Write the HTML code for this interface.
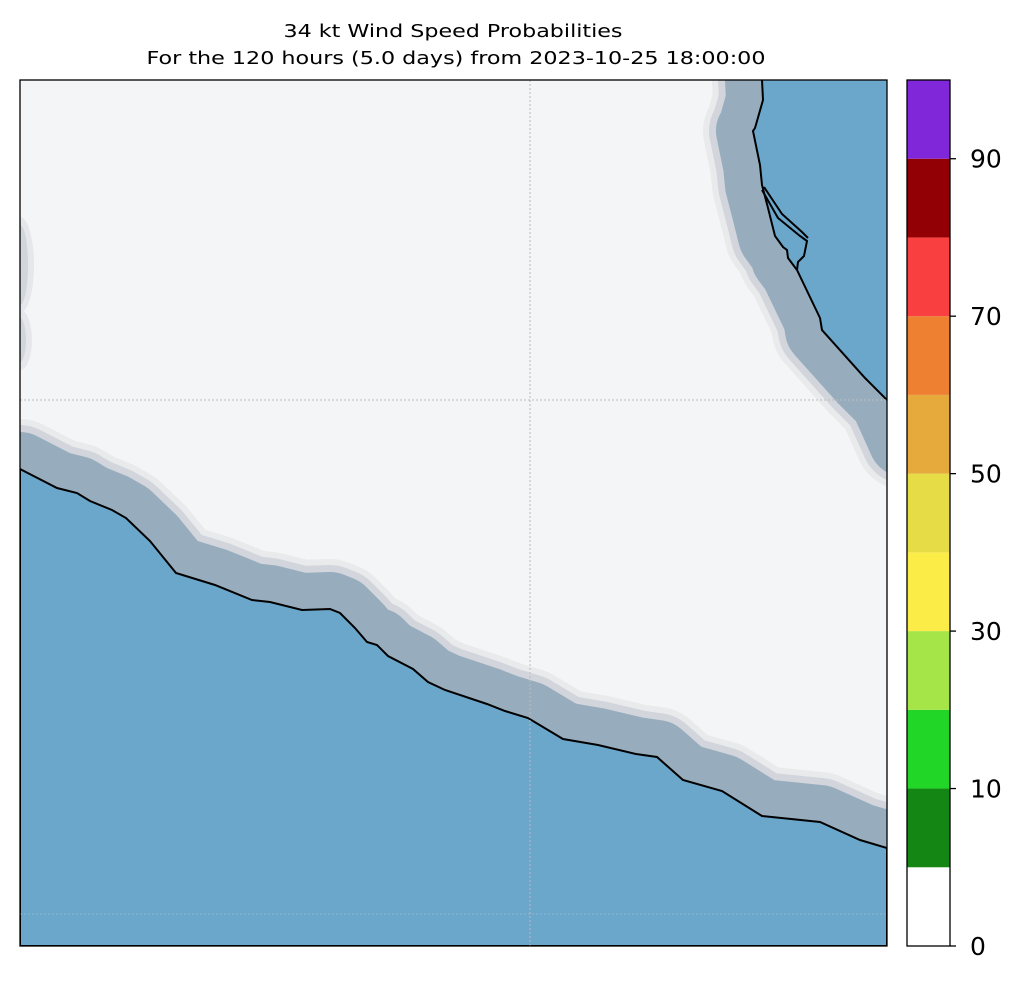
<!DOCTYPE html>
<html><head><meta charset="utf-8"><style>
body{margin:0;background:#fff;}
svg text{font-family:"DejaVu Sans","Liberation Sans",sans-serif;}
</style></head><body>
<svg width="1024" height="984" viewBox="0 0 1024 984" xmlns="http://www.w3.org/2000/svg">
<text x="453" y="37" font-size="18" text-anchor="middle" textLength="339" lengthAdjust="spacingAndGlyphs">34 kt Wind Speed Probabilities</text>
<text x="456" y="64" font-size="18" text-anchor="middle" textLength="619" lengthAdjust="spacingAndGlyphs">For the 120 hours (5.0 days) from 2023-10-25 18:00:00</text>
<defs><clipPath id="mc"><rect x="20" y="80" width="867" height="866"/></clipPath></defs>
<g clip-path="url(#mc)">
<rect x="20" y="80" width="867" height="866" fill="#f4f5f7"/>
<g id="bands" fill="none" stroke-linejoin="round" stroke-linecap="round"></g>
<g id="ocean"></g>
<line x1="530" y1="80" x2="530" y2="946" stroke="#bbb" stroke-width="1" stroke-dasharray="2,2"/>
<line x1="20" y1="400" x2="887" y2="400" stroke="#bbb" stroke-width="1" stroke-dasharray="2,2"/>
<line x1="20" y1="914" x2="887" y2="914" stroke="#8fb5d0" stroke-width="1" stroke-dasharray="2,2"/>
<path d="M762,190 L778,218 L800,236 L807,241 L804,256 L798,262 L797,270 M764,187 L782,214 L802,232 L808,238" fill="none" stroke="#000" stroke-width="2"/>
</g>
<rect x="20" y="80" width="867" height="866" fill="none" stroke="#000" stroke-width="1.3"/>
<g id="cbar"></g>
<script>
const southCoast=[[20,469],[57,488],[77,493],[90,501],[112,510],[126,518],[150,541],[176,573],[215,585],[252,600],[270,602],[302,610],[330,609],[340,613],[355,628],[367,642],[377,645],[388,656],[413,669],[428,682],[445,690],[487,704],[505,711],[528,718],[563,739],[598,745],[636,754],[657,757],[683,780],[722,791],[762,816],[820,822],[860,840],[887,848]];
const neCoast=[[762,80],[763,100],[755,128],[753,131],[760,165],[762,185],[768,208],[775,236],[783,247],[787,250],[788,258],[797,270],[820,318],[822,330],[865,378],[887,400]];
const cbBounds=[0,5,10,20,30,40,50,60,70,80,90,100];
const cbColors=["#ffffff","#138614","#22d627","#a6e547","#fbec48","#e6dc45","#e5aa3b","#ee8032","#fa3f40","#920005","#7f27d9"];
const cbTicks=[0,10,30,50,70,90];
const NS="http://www.w3.org/2000/svg";
function mk(t,a,p){const e=document.createElementNS(NS,t);for(const k in a)e.setAttribute(k,a[k]);p.appendChild(e);return e;}
const pts=a=>a.map(p=>p.join(',')).join(' L');
const bands=document.getElementById('bands');
[[100,'#e9eaec'],[88,'#d2d6dc'],[74,'#97adbd']].forEach(([w,c])=>{
 const s=mk('path',{d:'M'+pts(southCoast)+' M'+pts(neCoast)+' L905,440',stroke:c,'stroke-width':w},bands);
 
 
});
[[20,265,14,48,'#e6e7ea'],[20,265,8,40,'#d2d6dc'],[20,340,12,30,'#e6e7ea'],[20,340,6,22,'#d2d6dc']].forEach(([cx,cy,rx,ry,c])=>{
 const e=mk('ellipse',{cx,cy,rx,ry,fill:c},bands);
 
 
});
const oc=document.getElementById('ocean');
let o=mk('path',{d:'M'+pts(southCoast)+' L887,946 L20,946 Z',fill:'#6ba6cb',stroke:'#000','stroke-width':2},oc);


o=mk('path',{d:'M'+pts(neCoast)+' L890,400 L890,78 L762,78 Z',fill:'#6ba6cb',stroke:'#000','stroke-width':2},oc);


const cb=document.getElementById('cbar');
const cx0=907,cw=43,cbTop=80,cbBot=946,nSeg=cbColors.length,seg=(cbBot-cbTop)/nSeg;
const yOf=v=>{const i=cbBounds.findIndex(b=>b>=v);if(cbBounds[i]===v)return cbBot-i*seg;const f=(v-cbBounds[i-1])/(cbBounds[i]-cbBounds[i-1]);return cbBot-(i-1+f)*seg;};
cbColors.forEach((c,i)=>{
 const r=mk('rect',{x:cx0,y:yOf(cbBounds[i+1]),width:cw,height:yOf(cbBounds[i])-yOf(cbBounds[i+1]),fill:c},cb);
 
 
});
mk('rect',{x:cx0,y:cbTop,width:cw,height:cbBot-cbTop,fill:'none',stroke:'#000','stroke-width':1.3},cb);
cbTicks.forEach(t=>{
 const y=yOf(t);
 mk('line',{x1:cx0+cw,x2:cx0+cw+6,y1:y,y2:y,stroke:'#000','stroke-width':1.3},cb);
 const tx=mk('text',{x:cx0+cw+20,y:y+9,'font-size':25},cb);
 tx.textContent=t;
 
 
});
</script>
</svg>
</body></html>
